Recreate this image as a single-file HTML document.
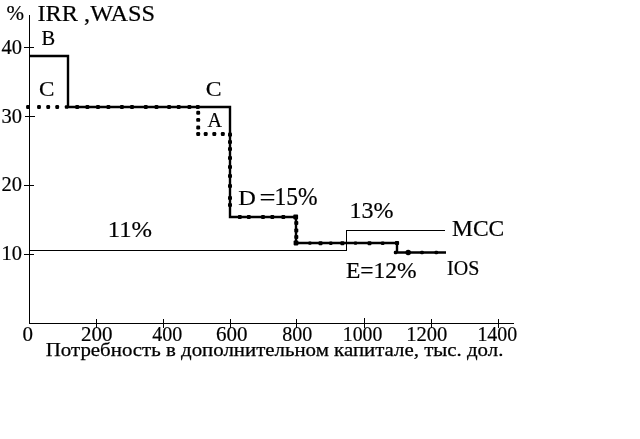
<!DOCTYPE html>
<html><head><meta charset="utf-8"><title>IRR, WASS</title>
<style>
html,body{margin:0;padding:0;background:#fff;}
svg{display:block;}
text{font-family:"Liberation Serif",serif;fill:#000;stroke:#000;stroke-width:0.2px;}
#lbl{stroke-width:0.25px;}
</style></head><body>
<svg width="640" height="439" viewBox="0 0 640 439">
<rect width="640" height="439" fill="#fff"/>
<g fill="#000" shape-rendering="crispEdges">
<rect x="29" y="15" width="1" height="309"/>
<rect x="29" y="323" width="485" height="1"/>
<rect x="24" y="47" width="10" height="1"/>
<rect x="25" y="116" width="10" height="1"/>
<rect x="24" y="185" width="10" height="1"/>
<rect x="24" y="254" width="10" height="1"/>
<rect x="96" y="319" width="1" height="9"/>
<rect x="163" y="319" width="1" height="9"/>
<rect x="230" y="319" width="1" height="9"/>
<rect x="296" y="319" width="1" height="9"/>
<rect x="364" y="318" width="1" height="10"/>
<rect x="431" y="319" width="1" height="9"/>
<rect x="498" y="319" width="1" height="9"/>
<rect x="29" y="250" width="317" height="1"/>
<rect x="346" y="230" width="1" height="21"/>
<rect x="346" y="230" width="99" height="1"/>
</g>
<polyline fill="none" stroke="#000" stroke-width="2.4" stroke-linejoin="miter" points="29,56 68,56 68,107 230,107 230,217 296,217 296,243 397,243 397,252.5 446,252.5"/>
<g fill="#000">
<rect x="26.10" y="105.10" width="3.8" height="3.8" rx="1.2"/>
<rect x="37.10" y="105.10" width="3.8" height="3.8" rx="1.2"/>
<rect x="46.30" y="105.10" width="3.8" height="3.8" rx="1.2"/>
<rect x="55.30" y="105.10" width="3.8" height="3.8" rx="1.2"/>
<rect x="64.80" y="105.20" width="3.6" height="3.6" rx="1"/>
<rect x="75.20" y="105.00" width="4.0" height="4.0" rx="1.3"/>
<rect x="85.40" y="105.00" width="4.0" height="4.0" rx="1.3"/>
<rect x="96.00" y="105.00" width="4.0" height="4.0" rx="1.3"/>
<rect x="106.40" y="105.00" width="4.0" height="4.0" rx="1.3"/>
<rect x="119.90" y="105.00" width="4.0" height="4.0" rx="1.3"/>
<rect x="130.00" y="105.00" width="4.0" height="4.0" rx="1.3"/>
<rect x="143.80" y="105.00" width="4.0" height="4.0" rx="1.3"/>
<rect x="154.50" y="105.00" width="4.0" height="4.0" rx="1.3"/>
<rect x="167.10" y="105.00" width="4.0" height="4.0" rx="1.3"/>
<rect x="176.70" y="105.00" width="4.0" height="4.0" rx="1.3"/>
<rect x="187.40" y="105.00" width="4.0" height="4.0" rx="1.3"/>
<rect x="195.80" y="105.00" width="4.0" height="4.0" rx="1.3"/>
<rect x="196.25" y="110.85" width="3.9" height="3.9" rx="1.2"/>
<rect x="196.25" y="117.95" width="3.9" height="3.9" rx="1.2"/>
<rect x="196.25" y="125.55" width="3.9" height="3.9" rx="1.2"/>
<rect x="196.25" y="132.05" width="3.9" height="3.9" rx="1.2"/>
<rect x="203.75" y="132.05" width="3.9" height="3.9" rx="1.2"/>
<rect x="212.35" y="132.05" width="3.9" height="3.9" rx="1.2"/>
<rect x="220.85" y="132.05" width="3.9" height="3.9" rx="1.2"/>
<rect x="228.00" y="132.60" width="4.0" height="4.0" rx="1.2"/>
<rect x="228.00" y="140.00" width="4.0" height="4.0" rx="1.2"/>
<rect x="228.00" y="147.00" width="4.0" height="4.0" rx="1.2"/>
<rect x="228.00" y="156.00" width="4.0" height="4.0" rx="1.2"/>
<rect x="228.00" y="165.00" width="4.0" height="4.0" rx="1.2"/>
<rect x="228.00" y="174.00" width="4.0" height="4.0" rx="1.2"/>
<rect x="228.00" y="184.00" width="4.0" height="4.0" rx="1.2"/>
<rect x="228.00" y="196.00" width="4.0" height="4.0" rx="1.2"/>
<rect x="228.00" y="203.00" width="4.0" height="4.0" rx="1.2"/>
<rect x="237.85" y="215.05" width="3.9" height="3.9" rx="1"/>
<rect x="246.85" y="215.05" width="3.9" height="3.9" rx="1"/>
<rect x="261.05" y="215.05" width="3.9" height="3.9" rx="1"/>
<rect x="270.35" y="215.05" width="3.9" height="3.9" rx="1"/>
<rect x="281.35" y="215.05" width="3.9" height="3.9" rx="1"/>
<rect x="293.30" y="214.60" width="4.8" height="4.8" rx="0.8"/>
<rect x="293.60" y="240.60" width="4.8" height="4.8" rx="0.8"/>
<rect x="294.30" y="220.90" width="4.0" height="4.0" rx="1"/>
<rect x="294.30" y="228.40" width="4.0" height="4.0" rx="1"/>
<rect x="294.30" y="235.10" width="4.0" height="4.0" rx="1"/>
<rect x="308.25" y="241.55" width="3.3" height="3.3" rx="1"/>
<rect x="318.50" y="241.20" width="4.0" height="4.0" rx="1"/>
<rect x="329.10" y="241.50" width="3.4" height="3.4" rx="1"/>
<rect x="340.40" y="241.20" width="4.0" height="4.0" rx="1"/>
<rect x="353.90" y="241.60" width="3.2" height="3.2" rx="1"/>
<rect x="367.55" y="241.25" width="3.9" height="3.9" rx="1"/>
<rect x="380.95" y="241.45" width="3.5" height="3.5" rx="1"/>
<rect x="394.90" y="240.90" width="4.2" height="4.2" rx="1"/>
<rect x="393.80" y="250.70" width="3.6" height="3.6" rx="1.4"/>
<rect x="405.40" y="249.70" width="5.6" height="5.6" rx="2.8"/>
<rect x="420.15" y="250.65" width="3.7" height="3.7" rx="1.4"/>
<rect x="434.45" y="250.65" width="3.7" height="3.7" rx="1.4"/>
</g>
<text id="pct" x="6.5" y="19.6" font-size="21">%</text>
<text id="irr" x="37.5" y="21.4" font-size="24" textLength="117.5" lengthAdjust="spacingAndGlyphs">IRR ,WASS</text>
<text id="t40" x="1.5" y="53.9" font-size="20.5">40</text>
<text id="t30" x="1.5" y="122.7" font-size="20.5">30</text>
<text id="t20" x="1.5" y="191.4" font-size="20.5">20</text>
<text id="t10" x="1.5" y="260.2" font-size="20.5">10</text>
<text id="B" x="41.5" y="45" font-size="20.5">B</text>
<text id="C1" x="39" y="96" font-size="20" textLength="15.4" lengthAdjust="spacingAndGlyphs">C</text>
<text id="C2" x="205.8" y="96" font-size="20" textLength="15.8" lengthAdjust="spacingAndGlyphs">C</text>
<text id="A" x="207.5" y="126.5" font-size="20">A</text>
<text id="D" x="238.2" y="204.6" font-size="22" textLength="17.6" lengthAdjust="spacingAndGlyphs">D</text>
<text id="eq" x="259.4" y="204.6" font-size="24" textLength="16" lengthAdjust="spacingAndGlyphs">=</text>
<text id="p15" x="274.6" y="204.8" font-size="25" textLength="43" lengthAdjust="spacingAndGlyphs">15%</text>
<text id="p11" x="107.8" y="237" font-size="24" textLength="44.2" lengthAdjust="spacingAndGlyphs">11%</text>
<text id="p13" x="349.6" y="218.3" font-size="24">13%</text>
<text id="MCC" x="452" y="236.2" font-size="23.5">MCC</text>
<text id="E12" x="346" y="278.2" font-size="23.5">E=12%</text>
<text id="IOS" x="447.1" y="275.3" font-size="20">IOS</text>
<text id="x0" x="22.5" y="340.8" font-size="21">0</text>
<text id="x200" x="81" y="340.8" font-size="21">200</text>
<text id="x400" x="152.3" y="340.8" font-size="21" textLength="30" lengthAdjust="spacingAndGlyphs">400</text>
<text id="x600" x="216" y="340.8" font-size="21">600</text>
<text id="x800" x="282.2" y="340.8" font-size="21" textLength="30" lengthAdjust="spacingAndGlyphs">800</text>
<text id="x1000" x="342.8" y="340.8" font-size="21" textLength="39.5" lengthAdjust="spacingAndGlyphs">1000</text>
<text id="x1200" x="406.2" y="340.8" font-size="21" textLength="41.2" lengthAdjust="spacingAndGlyphs">1200</text>
<text id="x1400" x="477.4" y="340.8" font-size="21" textLength="39.8" lengthAdjust="spacingAndGlyphs">1400</text>
<text id="lbl" x="45.8" y="356" font-size="18.6" textLength="457.6" lengthAdjust="spacingAndGlyphs">Потребность в дополнительном капитале, тыс. дол.</text>
</svg>
</body></html>
